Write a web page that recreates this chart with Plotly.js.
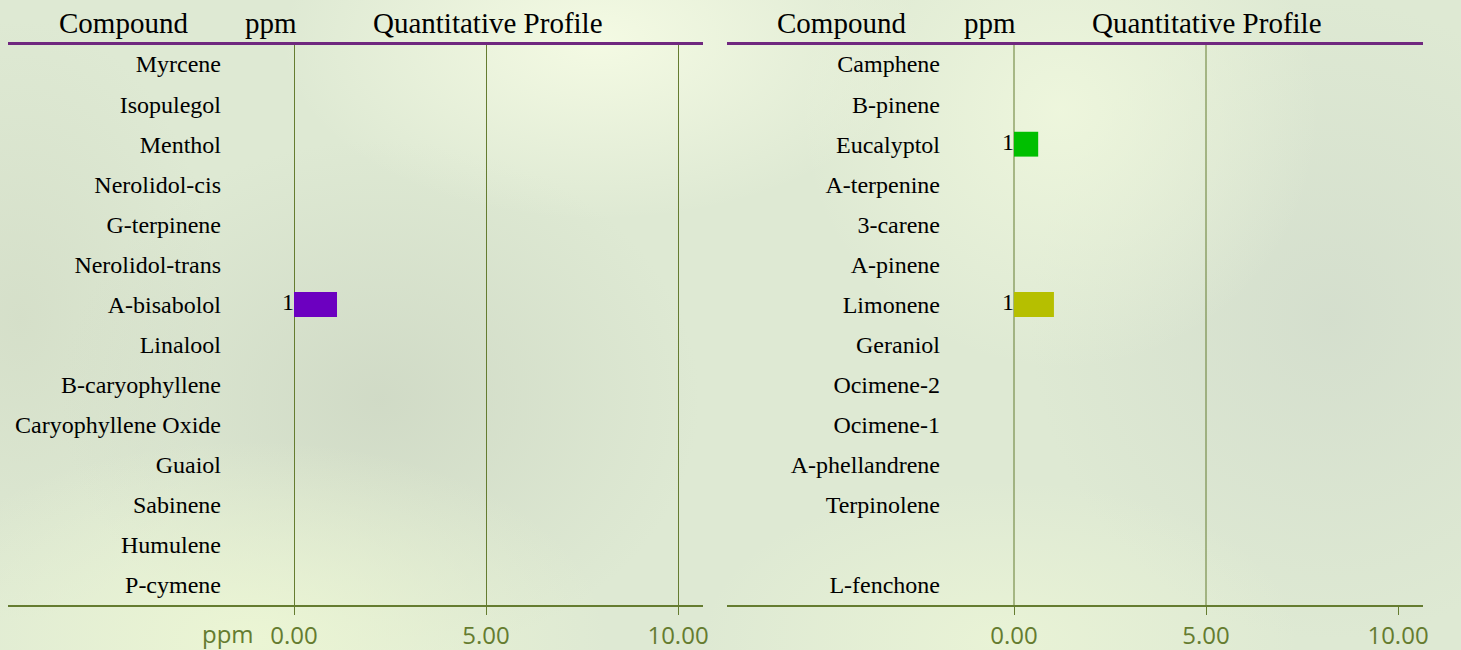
<!DOCTYPE html>
<html>
<head>
<meta charset="utf-8">
<script src="https://cdn.plot.ly/plotly-3.0.1.min.js"></script>
<style>
html, body { margin:0; padding:0; }
body {
  width:1461px; height:650px; overflow:hidden;
  background:
    radial-gradient(ellipse 320px 180px at 600px 40px, rgba(245,251,228,0.95), rgba(245,251,228,0)),
    radial-gradient(ellipse 260px 260px at 1060px 110px, rgba(240,248,222,0.85), rgba(240,248,222,0)),
    radial-gradient(ellipse 360px 200px at 250px 640px, rgba(236,246,212,0.95), rgba(236,246,212,0)),
    radial-gradient(ellipse 300px 160px at 1000px 640px, rgba(234,244,214,0.9), rgba(234,244,214,0)),
    radial-gradient(ellipse 320px 260px at 380px 400px, rgba(206,216,196,0.85), rgba(206,216,196,0)),
    radial-gradient(ellipse 300px 320px at 1330px 320px, rgba(210,220,204,0.8), rgba(210,220,204,0)),
    radial-gradient(ellipse 200px 300px at 20px 320px, rgba(210,220,198,0.75), rgba(210,220,198,0)),
    #dee9d3;
}
#chart { width:1461px; height:650px; }
</style>
</head>
<body>
<div id="chart"></div>
<script>
// ---- data ----
const leftCompounds = ['Myrcene','Isopulegol','Menthol','Nerolidol-cis','G-terpinene','Nerolidol-trans',
  'A-bisabolol','Linalool','B-caryophyllene','Caryophyllene Oxide','Guaiol','Sabinene','Humulene','P-cymene'];
const leftPpm = [0,0,0,0,0,0,1.12,0,0,0,0,0,0,0];

const rightCompounds = ['Camphene','B-pinene','Eucalyptol','A-terpenine','3-carene','A-pinene','Limonene',
  'Geraniol','Ocimene-2','Ocimene-1','A-phellandrene','Terpinolene','','L-fenchone'];
const rightPpm = [0,0,0.63,0,0,0,1.04,0,0,0,0,0,0,0];

const xTicks = [0, 5, 10];
const xTickText = ['0.00', '5.00', '10.00'];
const rightGridVals = [0, 5];
const headers = ['Compound', 'ppm', 'Quantitative Profile'];

// ---- styles ----
const barColors = {
  'A-bisabolol': '#6c00c0',
  'Eucalyptol': '#00bf00',
  'Limonene': '#b6bf00'
};
const W = 1461, H = 650;
const olive = '#657c30';
const serif = 'Liberation Serif, Times New Roman, serif';
const sans = 'Open Sans, sans-serif';

function px(x) { return x / W; }
function py(y) { return 1 - y / H; }

const yDom = [py(605), py(44)];
const idxL = leftCompounds.map((_, i) => i);
const idxR = rightCompounds.map((_, i) => i);

function barTrace(cats, vals, idx, xa, ya) {
  return {
    type: 'bar', orientation: 'h', x: vals, y: idx, xaxis: xa, yaxis: ya,
    width: 0.62,
    marker: { color: cats.map(c => barColors[c] || '#888888'), line: { width: 0 } },
    hoverinfo: 'skip', showlegend: false
  };
}
function labelTrace(vals, idx, xa, ya) {
  const xs = [], ys = [], ts = [];
  vals.forEach((v, i) => { if (v > 0) { xs.push(0); ys.push(idx[i]); ts.push(String(Math.round(v))); } });
  return {
    type: 'scatter', mode: 'text', x: xs, y: ys, text: ts, xaxis: xa, yaxis: ya,
    textposition: 'middle left', textfont: { family: serif, size: 24, color: '#000' },
    hoverinfo: 'skip', showlegend: false, cliponaxis: false
  };
}

const data = [
  barTrace(leftCompounds, leftPpm, idxL, 'x', 'y'),
  labelTrace(leftPpm, idxL, 'x', 'y'),
  barTrace(rightCompounds, rightPpm, idxR, 'x2', 'y2'),
  labelTrace(rightPpm, idxR, 'x2', 'y2')
];

function xAxis(dom, range, grid, anchor) {
  return {
    domain: dom, range: range, anchor: anchor, fixedrange: true,
    tickvals: xTicks, ticktext: xTickText,
    showgrid: grid, gridcolor: olive, gridwidth: 1, zeroline: false,
    showline: true, linecolor: olive, linewidth: 2,
    ticks: 'outside', ticklen: 8, tickwidth: 1, tickcolor: olive,
    tickfont: { family: sans, size: 24, color: olive },
    automargin: false
  };
}
function yAxis(labels, idx, pos) {
  return {
    domain: yDom, range: [labels.length - 0.5, -0.5], anchor: 'free', position: pos,
    tickvals: idx, ticktext: labels, showgrid: false, zeroline: false, showline: false,
    ticks: '', tickfont: { family: serif, size: 24, color: '#000' }, automargin: false, fixedrange: true
  };
}

const shapes = [
  { type: 'line', xref: 'paper', yref: 'paper', x0: px(8), x1: px(703), y0: py(43.5), y1: py(43.5),
    line: { color: '#70287f', width: 3 } },
  { type: 'line', xref: 'paper', yref: 'paper', x0: px(727), x1: px(1423), y0: py(43.5), y1: py(43.5),
    line: { color: '#70287f', width: 3 } }
];
rightGridVals.forEach(v => shapes.push({
  type: 'line', xref: 'x2', yref: 'y2 domain', x0: v, x1: v, y0: 0, y1: 1,
  line: { color: olive, width: 1 }, layer: 'below'
}));

const headerXL = [123, 271, 488];
const headerXR = [842, 990, 1207];
const annotations = [];
headers.forEach((h, i) => {
  annotations.push({ text: h, xref: 'paper', yref: 'paper', x: px(headerXL[i]), y: py(23),
    xanchor: 'center', yanchor: 'middle', showarrow: false, font: { family: serif, size: 29, color: '#000' } });
  annotations.push({ text: h, xref: 'paper', yref: 'paper', x: px(headerXR[i]), y: py(23),
    xanchor: 'center', yanchor: 'middle', showarrow: false, font: { family: serif, size: 29, color: '#000' } });
});
annotations.push({ text: 'ppm', xref: 'paper', yref: 'paper', x: px(228), y: py(633),
  xanchor: 'center', yanchor: 'middle', showarrow: false, font: { family: sans, size: 24, color: olive } });

const leftRange = [(8 - 294) / 38.4, (703 - 294) / 38.4];
const rightRange = [(727 - 1014) / 38.4, (1423 - 1014) / 38.4];

const layout = {
  width: W, height: H, autosize: false,
  margin: { l: 0, r: 0, t: 0, b: 0, pad: 0 },
  paper_bgcolor: 'rgba(0,0,0,0)', plot_bgcolor: 'rgba(0,0,0,0)',
  barmode: 'overlay',
  xaxis: xAxis([px(8), px(703)], leftRange, true, 'y'),
  yaxis: yAxis(leftCompounds, idxL, px(221)),
  xaxis2: xAxis([px(727), px(1423)], rightRange, false, 'y2'),
  yaxis2: yAxis(rightCompounds, idxR, px(940)),
  shapes: shapes,
  annotations: annotations,
  showlegend: false
};

Plotly.newPlot('chart', data, layout, { staticPlot: true, displayModeBar: false });
</script>
</body>
</html>
